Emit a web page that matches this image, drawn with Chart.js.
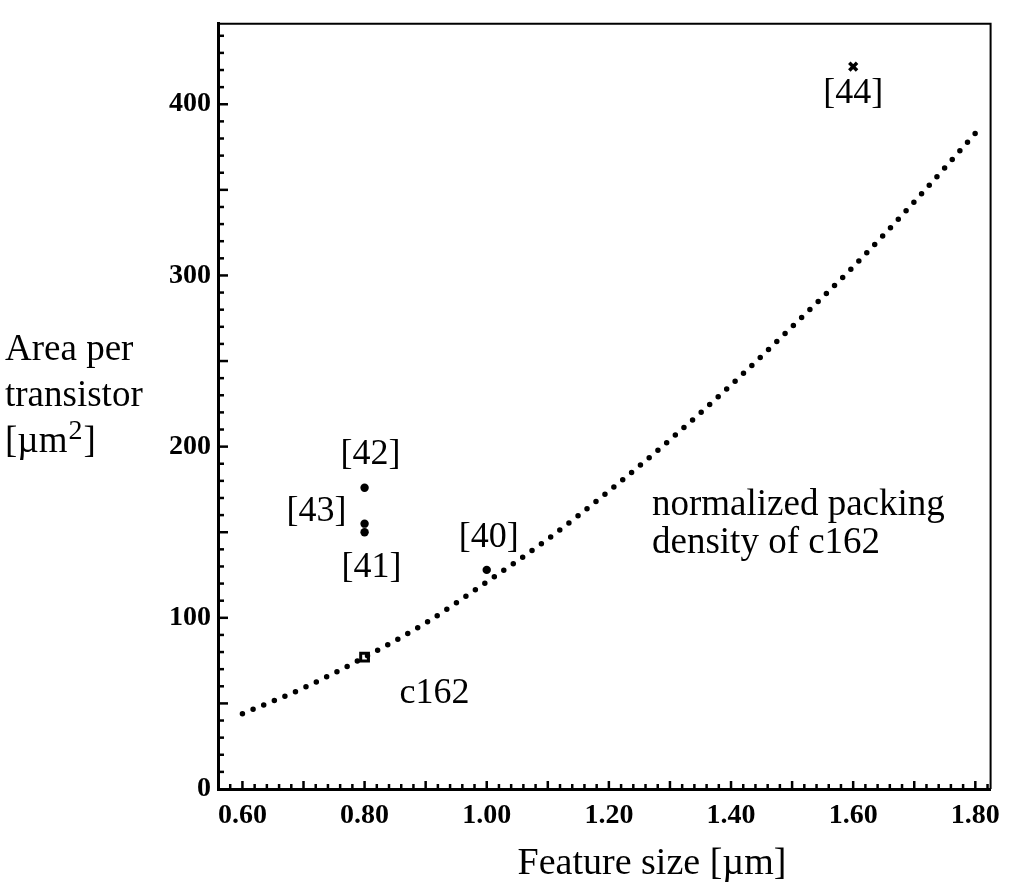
<!DOCTYPE html>
<html>
<head>
<meta charset="utf-8">
<script src="https://cdn.jsdelivr.net/npm/chart.js@4.4.0/dist/chart.umd.min.js"></script>
<style>
html, body { margin: 0; padding: 0; background: #fff; }
</style>
</head>
<body>
<canvas id="areaChart" width="1010" height="893"></canvas>
<script>
// normalized packing density curve of c162
const curveX = [0.60, 0.70, 0.80, 0.90, 1.00, 1.10, 1.20, 1.30, 1.40, 1.50, 1.60, 1.70, 1.80];
const curveY = [44, 59, 77, 97, 121, 146, 174, 204, 236, 270, 305, 343, 383];

const c162X = [0.80];
const c162Y = [77];

const refLabels = ['[40]', '[42]', '[43]', '[41]'];
const refX = [1.00, 0.80, 0.80, 0.80];
const refY = [128, 176, 155, 150];

const ref44X = [1.60];
const ref44Y = [422];

const xTickLabels = ['0.60', '0.80', '1.00', '1.20', '1.40', '1.60', '1.80'];
const yTickLabels = ['0', '100', '200', '300', '400'];

const serif = '"Liberation Serif", "DejaVu Serif", serif';

function pts(xs, ys) {
    return xs.map((v, i) => ({ x: v, y: ys[i] }));
}

// box border + inward tick marks
const frame = {
    id: 'frame',
    afterDraw(chart) {
        const { ctx, chartArea: a, scales: { x, y } } = chart;
        ctx.save();
        ctx.strokeStyle = '#000';
        ctx.lineWidth = 2;
        ctx.beginPath();
        ctx.moveTo(a.left, a.top);
        ctx.lineTo(a.right, a.top);
        ctx.lineTo(a.right, a.bottom);
        ctx.stroke();

        ctx.lineWidth = 2.5;
        for (let v = 10; v <= 440; v += 10) {
            const py = y.getPixelForValue(v);
            const len = v % 50 === 0 ? 10 : 6;
            ctx.beginPath();
            ctx.moveTo(a.left, py);
            ctx.lineTo(a.left + len, py);
            ctx.stroke();
        }
        for (let i = 29; i <= 91; i++) {
            const px = x.getPixelForValue(i / 50);
            const len = i % 5 === 0 ? 8 : 5;
            ctx.beginPath();
            ctx.moveTo(px, a.bottom);
            ctx.lineTo(px, a.bottom - len);
            ctx.stroke();
        }
        ctx.restore();
    }
};

// reference labels and titles
const notes = {
    id: 'notes',
    afterDraw(chart) {
        const { ctx, scales: { x, y } } = chart;
        ctx.save();
        ctx.fillStyle = '#000';
        ctx.textAlign = 'center';
        ctx.textBaseline = 'middle';
        ctx.font = '36px ' + serif;
        const off = [[2, -32], [6, -33], [-48, -12], [7, 35]];
        refLabels.forEach((t, i) => {
            ctx.fillText(t, x.getPixelForValue(refX[i]) + off[i][0], y.getPixelForValue(refY[i]) + off[i][1]);
        });
        ctx.fillText('[44]', x.getPixelForValue(ref44X[0]), y.getPixelForValue(ref44Y[0]) + 27);
        ctx.fillText('c162', x.getPixelForValue(c162X[0]) + 70, y.getPixelForValue(c162Y[0]) + 36);

        ctx.textAlign = 'left';
        ctx.textBaseline = 'alphabetic';
        ctx.font = '37px ' + serif;
        ctx.fillText('normalized packing', 652, 515);
        ctx.fillText('density of c162', 652, 553);

        // y axis title, horizontal
        ctx.fillText('Area per', 5, 360);
        ctx.fillText('transistor', 5, 406);
        ctx.fillText('[\u00b5m', 5, 452);
        const w = ctx.measureText('[\u00b5m').width;
        ctx.font = '28px ' + serif;
        ctx.fillText('2', 5 + w + 1, 439);
        const w2 = ctx.measureText('2').width;
        ctx.font = '37px ' + serif;
        ctx.fillText(']', 5 + w + w2 + 2, 452);

        ctx.textAlign = 'center';
        ctx.font = '38px ' + serif;
        ctx.fillText('Feature size [\u00b5m]', 652, 874);
        ctx.restore();
    }
};

new Chart(document.getElementById('areaChart').getContext('2d'), {
    type: 'scatter',
    data: {
        datasets: [
            {
                data: pts(curveX, curveY),
                showLine: true,
                pointRadius: 0,
                borderColor: '#000',
                borderWidth: 5.5,
                borderDash: [0, 11.5],
                borderCapStyle: 'round',
                cubicInterpolationMode: 'monotone'
            },
            {
                data: pts(c162X, c162Y),
                pointStyle: 'rect',
                pointRadius: 5.5,
                borderWidth: 3,
                borderColor: '#000',
                backgroundColor: '#fff'
            },
            {
                data: pts(refX, refY),
                pointStyle: 'circle',
                pointRadius: 4.2,
                borderWidth: 0,
                backgroundColor: '#000'
            },
            {
                data: pts(ref44X, ref44Y),
                pointStyle: 'crossRot',
                pointRadius: 5.5,
                borderWidth: 3.5,
                borderColor: '#000'
            }
        ]
    },
    options: {
        responsive: false,
        animation: false,
        layout: { padding: { top: 13, right: 8, left: 0, bottom: 0 } },
        plugins: {
            legend: { display: false },
            tooltip: { enabled: false }
        },
        scales: {
            x: {
                type: 'linear',
                min: 0.56,
                max: 1.825,
                afterFit: s => { s.height = 104; },
                afterBuildTicks: s => { s.ticks = xTickLabels.map(t => ({ value: parseFloat(t) })); },
                grid: { display: false, drawTicks: false },
                border: { display: true, color: '#000', width: 3 },
                ticks: {
                    color: '#000',
                    padding: 10,
                    maxRotation: 0,
                    font: { family: serif, size: 28, weight: 'bold' },
                    callback: v => xTickLabels.find(t => parseFloat(t) === v) || ''
                }
            },
            y: {
                type: 'linear',
                min: 0,
                max: 447,
                afterFit: s => { s.width = 218; },
                afterBuildTicks: s => { s.ticks = yTickLabels.map(t => ({ value: Number(t) })); },
                grid: { display: false, drawTicks: false },
                border: { display: true, color: '#000', width: 3 },
                ticks: {
                    color: '#000',
                    padding: 7,
                    font: { family: serif, size: 28, weight: 'bold' },
                    callback: v => yTickLabels.find(t => Number(t) === v) || ''
                }
            }
        }
    },
    plugins: [frame, notes]
});
</script>
</body>
</html>
